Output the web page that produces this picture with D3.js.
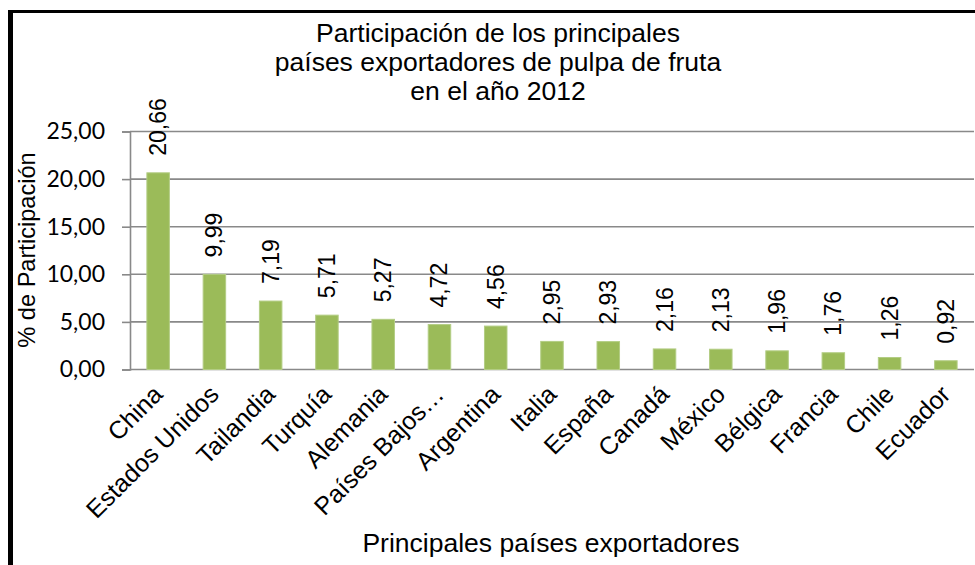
<!DOCTYPE html>
<html>
<head>
<meta charset="utf-8">
<script src="https://cdn.jsdelivr.net/npm/d3@7"></script>
<style>
  html, body { margin: 0; padding: 0; background: #fff; }
  svg { display: block; }
  .tick text { font-family: Lato, "Open Sans", sans-serif; }
</style>
</head>
<body>
<svg id="chart" width="975" height="565"></svg>
<script>
// Participación de los principales países exportadores de pulpa de fruta, 2012
const countries = ["China", "Estados Unidos", "Tailandia", "Turquía", "Alemania",
  "Países Bajos…", "Argentina", "Italia", "España", "Canadá", "México",
  "Bélgica", "Francia", "Chile", "Ecuador"];
const shares = [20.66, 9.99, 7.19, 5.71, 5.27, 4.72, 4.56, 2.95, 2.93, 2.16,
  2.13, 1.96, 1.76, 1.26, 0.92];
const yTicks = [0, 5, 10, 15, 20, 25];
const titleLines = ["Participación de los principales",
  "países exportadores de pulpa de fruta", "en el año 2012"];
const xTitle = "Principales países exportadores";
const yTitle = "% de Participación";

const svg = d3.select("#chart");
const fmt = v => d3.format(".2f")(v).replace(".", ",");

const x = d3.scaleBand().domain(countries).range([130, 974]).paddingInner(0.6).paddingOuter(0.3);
const y = d3.scaleLinear().domain([0, 25]).range([369.5, 131.5]);

// outer frame (left and top edges)
svg.append("rect").attr("x", 8).attr("y", 10).attr("width", 5).attr("height", 555).attr("fill", "#000");
svg.append("rect").attr("x", 8).attr("y", 10).attr("width", 967).attr("height", 3).attr("fill", "#000");

// horizontal gridlines
svg.append("g")
  .selectAll("line")
  .data(yTicks)
  .join("line")
  .attr("x1", 130).attr("x2", 974)
  .attr("y1", d => y(d)).attr("y2", d => y(d))
  .attr("stroke", "#898989").attr("stroke-width", 1.6);

// y axis
const yAxis = svg.append("g")
  .attr("transform", "translate(130,0)")
  .call(d3.axisLeft(y).tickValues(yTicks).tickFormat(fmt).tickSize(8).tickPadding(17));
yAxis.selectAll("path, line").attr("stroke", "#898989").attr("stroke-width", 1.6);
yAxis.selectAll("text").attr("font-size", 23).attr("fill", "#000");

// bars
svg.append("g")
  .selectAll("rect")
  .data(shares)
  .join("rect")
  .attr("x", (d, i) => x(countries[i]))
  .attr("width", x.bandwidth())
  .attr("y", d => y(d))
  .attr("height", d => y(0) - y(d))
  .attr("fill", "#9bbb59")
  .attr("stroke", "#b3cd84").attr("stroke-width", 1);

// value labels
svg.append("g")
  .selectAll("text")
  .data(shares)
  .join("text")
  .attr("transform", (d, i) => `translate(${x(countries[i]) + x.bandwidth() / 2 + 8},${y(d) - 17}) rotate(-90)`)
  .attr("font-family", "'Liberation Sans', Arial, sans-serif")
  .attr("font-size", 23)
  .attr("fill", "#000")
  .text(d => fmt(d));

// category labels
svg.append("g")
  .selectAll("text")
  .data(countries)
  .join("text")
  .attr("transform", d => `translate(${x(d) + x.bandwidth() / 2 + 6},396) rotate(-45)`)
  .attr("text-anchor", "end")
  .attr("font-family", "'Liberation Sans', Arial, sans-serif")
  .attr("font-size", 25)
  .attr("fill", "#000")
  .text(d => d);

// chart title
svg.append("text")
  .attr("text-anchor", "middle")
  .attr("font-family", "'Liberation Sans', Arial, sans-serif")
  .attr("font-size", 26.5)
  .attr("fill", "#000")
  .selectAll("tspan")
  .data(titleLines)
  .join("tspan")
  .attr("x", 498)
  .attr("y", (d, i) => 42 + i * 29)
  .text(d => d);

// axis titles
svg.append("text")
  .attr("x", 551).attr("y", 552)
  .attr("text-anchor", "middle")
  .attr("font-family", "'Liberation Sans', Arial, sans-serif")
  .attr("font-size", 26.5)
  .attr("fill", "#000")
  .text(xTitle);

svg.append("text")
  .attr("transform", "translate(35,250) rotate(-90)")
  .attr("text-anchor", "middle")
  .attr("font-family", "'Liberation Sans', Arial, sans-serif")
  .attr("font-size", 23.6)
  .attr("fill", "#000")
  .text(yTitle);
</script>
</body>
</html>
